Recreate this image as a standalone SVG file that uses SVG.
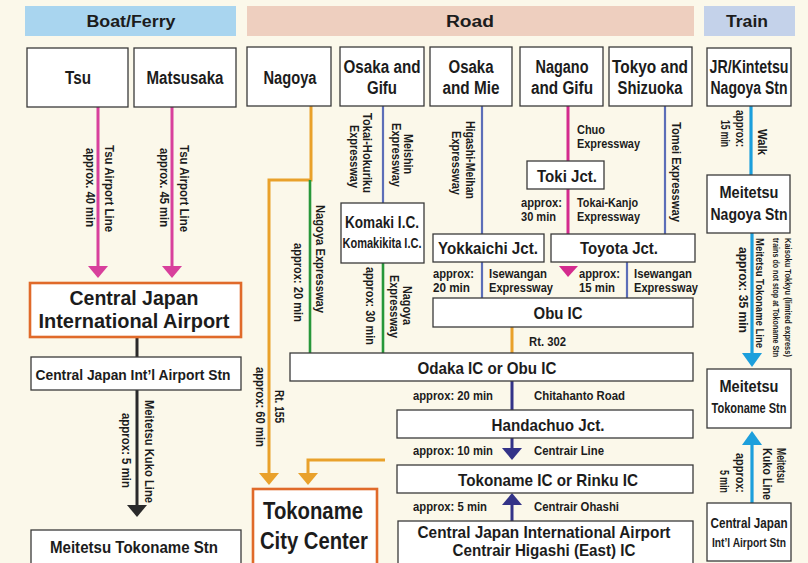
<svg xmlns="http://www.w3.org/2000/svg" width="808" height="563" viewBox="0 0 808 563">
<style>
.t{font-family:"Liberation Sans",Arial,Helvetica,sans-serif;font-weight:bold;fill:#1c1c1c}
.c{text-anchor:middle}
.e{text-anchor:end}
.s{font-size:12.5px}
.h{font-size:12px}
.xs{font-size:9.5px}
.b{font-size:17px}
.box{fill:#fff;stroke:#3a3a3a;stroke-width:1.3}
.obox{fill:#fff;stroke:#e06a2a;stroke-width:2.6}
.pink{stroke:#d8409c;stroke-width:3;fill:none}
.mag{stroke:#d42b8e;stroke-width:3;fill:none}
.blue{stroke:#5c6eb8;stroke-width:2.2;fill:none}
.green{stroke:#27973a;stroke-width:2.6;fill:none}
.orange{stroke:#e9a12b;stroke-width:3;fill:none}
.navy{stroke:#333388;stroke-width:3;fill:none}
.black{stroke:#2a2a2a;stroke-width:3;fill:none}
.cyan{stroke:#1c9fdc;stroke-width:3.2;fill:none}
</style>
<rect x="0" y="0" width="808" height="563" fill="#fbf8ea"/>

<g id="headers">
<rect x="25" y="6" width="211" height="30" fill="#a9d5ef"/>
<text class="t c" x="131" y="27" font-size="16" textLength="89" lengthAdjust="spacingAndGlyphs">Boat/Ferry</text>
<rect x="247" y="6" width="447" height="30" fill="#eecfbf"/>
<text class="t c" x="470" y="27" font-size="16" textLength="48" lengthAdjust="spacingAndGlyphs">Road</text>
<rect x="704" y="6" width="91" height="30" fill="#c4d2ea"/>
<text class="t c" x="747" y="27" font-size="16" textLength="42" lengthAdjust="spacingAndGlyphs">Train</text>
</g>

<g id="connectors">
<line class="pink" x1="98" y1="107" x2="98" y2="268"/>
<polygon points="88,266 108,266 98,278" fill="#d8409c"/>
<line class="pink" x1="172" y1="107" x2="172" y2="268"/>
<polygon points="162,266 182,266 172,278" fill="#d8409c"/>
<line class="black" x1="137" y1="337" x2="137" y2="357"/>
<line class="black" x1="137" y1="390" x2="137" y2="506"/>
<polygon points="127,505 147,505 137,517" fill="#2a2a2a"/>
<polyline class="orange" points="311,106 311,180 269,180 269,474"/>
<polygon points="259,473 279,473 269,485" fill="#e9a12b"/>
<polyline class="orange" points="385,460 308,460 308,474"/>
<polygon points="298,473 318,473 308,485" fill="#e9a12b"/>
<line class="green" x1="310" y1="180" x2="310" y2="353"/>
<line class="green" x1="383" y1="263" x2="383" y2="353"/>
<line class="blue" x1="383" y1="106" x2="383" y2="203"/>
<line class="blue" x1="482" y1="106" x2="482" y2="234"/>
<line class="blue" x1="665" y1="106" x2="665" y2="234"/>
<line class="blue" x1="482" y1="262" x2="482" y2="298"/>
<line class="blue" x1="627" y1="262" x2="627" y2="298"/>
<line class="mag" x1="568" y1="106" x2="568" y2="161"/>
<line class="mag" x1="568" y1="189" x2="568" y2="234"/>
<polygon points="559,266 578,266 568,277" fill="#d42b8e"/>
<line class="orange" x1="512" y1="327" x2="512" y2="353"/>
<line class="navy" x1="512" y1="381" x2="512" y2="410"/>
<line class="navy" x1="512" y1="438" x2="512" y2="449"/>
<polygon points="502,448 522,448 512,460" fill="#333388"/>
<line class="navy" x1="512" y1="521" x2="512" y2="504"/>
<polygon points="502,505 522,505 512,493" fill="#333388"/>
<line class="cyan" x1="751" y1="106" x2="751" y2="175"/>
<line class="cyan" x1="752" y1="233" x2="752" y2="354"/>
<polygon points="742,353 762,353 752,367" fill="#1c9fdc"/>
<line class="cyan" x1="752" y1="503" x2="752" y2="444"/>
<polygon points="742,445 762,445 752,431" fill="#1c9fdc"/>

<g id="connector-labels">
<text class="t s" transform="translate(105,145) rotate(90)" textLength="87" lengthAdjust="spacingAndGlyphs">Tsu Airport Line</text>
<text class="t s" transform="translate(86,148) rotate(90)" textLength="79" lengthAdjust="spacingAndGlyphs">approx. 40 min</text>
<text class="t s" transform="translate(180,145) rotate(90)" textLength="87" lengthAdjust="spacingAndGlyphs">Tsu Airport Line</text>
<text class="t s" transform="translate(160,148) rotate(90)" textLength="79" lengthAdjust="spacingAndGlyphs">approx. 45 min</text>
<text class="t s" transform="translate(145,400) rotate(90)" textLength="103" lengthAdjust="spacingAndGlyphs">Meitetsu Kuko Line</text>
<text class="t s" transform="translate(122,413) rotate(90)" textLength="75" lengthAdjust="spacingAndGlyphs">approx: 5 min</text>
<text class="t s" transform="translate(275,390) rotate(90)" textLength="33" lengthAdjust="spacingAndGlyphs">Rt. 155</text>
<text class="t s" transform="translate(256,367) rotate(90)" textLength="80" lengthAdjust="spacingAndGlyphs">approx: 60 min</text>
<text class="t s" transform="translate(316,205) rotate(90)" textLength="108" lengthAdjust="spacingAndGlyphs">Nagoya Expressway</text>
<text class="t s" transform="translate(294,243) rotate(90)" textLength="79" lengthAdjust="spacingAndGlyphs">approx: 20 min</text>
<text class="t s" transform="translate(366,267) rotate(90)" textLength="78" lengthAdjust="spacingAndGlyphs">approx: 30 min</text>
<text class="t s" transform="translate(403,286) rotate(90)" textLength="39" lengthAdjust="spacingAndGlyphs">Nagoya</text>
<text class="t s" transform="translate(390,275) rotate(90)" textLength="63" lengthAdjust="spacingAndGlyphs">Expressway</text>
<text class="t s" transform="translate(363,113) rotate(90)" textLength="80" lengthAdjust="spacingAndGlyphs">Tokai-Hokuriku</text>
<text class="t s" transform="translate(350,125) rotate(90)" textLength="63" lengthAdjust="spacingAndGlyphs">Expressway</text>
<text class="t s" transform="translate(404,134) rotate(90)" textLength="40" lengthAdjust="spacingAndGlyphs">Meishin</text>
<text class="t s" transform="translate(392,123) rotate(90)" textLength="64" lengthAdjust="spacingAndGlyphs">Expressway</text>
<text class="t s" transform="translate(466,121) rotate(90)" textLength="78" lengthAdjust="spacingAndGlyphs">Higashi-Meihan</text>
<text class="t s" transform="translate(452,131) rotate(90)" textLength="64" lengthAdjust="spacingAndGlyphs">Expressway</text>
<text class="t s" transform="translate(672,122) rotate(90)" textLength="100" lengthAdjust="spacingAndGlyphs">Tomei Expressway</text>
<text class="t h" x="577" y="134" textLength="28" lengthAdjust="spacingAndGlyphs">Chuo</text>
<text class="t h" x="577" y="148" textLength="63" lengthAdjust="spacingAndGlyphs">Expressway</text>
<text class="t h" x="521" y="207" textLength="41" lengthAdjust="spacingAndGlyphs">approx:</text>
<text class="t h" x="521" y="221" textLength="35" lengthAdjust="spacingAndGlyphs">30 min</text>
<text class="t h" x="577" y="207" textLength="61" lengthAdjust="spacingAndGlyphs">Tokai-Kanjo</text>
<text class="t h" x="577" y="221" textLength="63" lengthAdjust="spacingAndGlyphs">Expressway</text>
<text class="t h" x="433" y="278" textLength="41" lengthAdjust="spacingAndGlyphs">approx:</text>
<text class="t h" x="433" y="292" textLength="37" lengthAdjust="spacingAndGlyphs">20 min</text>
<text class="t h" x="489" y="278" textLength="58" lengthAdjust="spacingAndGlyphs">Isewangan</text>
<text class="t h" x="489" y="292" textLength="64" lengthAdjust="spacingAndGlyphs">Expressway</text>
<text class="t h" x="579" y="278" textLength="41" lengthAdjust="spacingAndGlyphs">approx:</text>
<text class="t h" x="579" y="292" textLength="36" lengthAdjust="spacingAndGlyphs">15 min</text>
<text class="t h" x="634" y="278" textLength="58" lengthAdjust="spacingAndGlyphs">Isewangan</text>
<text class="t h" x="634" y="292" textLength="64" lengthAdjust="spacingAndGlyphs">Expressway</text>
<text class="t s" x="529" y="346" textLength="37" lengthAdjust="spacingAndGlyphs">Rt. 302</text>
<text class="t s" x="413" y="400" textLength="80" lengthAdjust="spacingAndGlyphs">approx: 20 min</text>
<text class="t s" x="534" y="400" textLength="91" lengthAdjust="spacingAndGlyphs">Chitahanto Road</text>
<text class="t s" x="413" y="455" textLength="80" lengthAdjust="spacingAndGlyphs">approx: 10 min</text>
<text class="t s" x="534" y="455" textLength="70" lengthAdjust="spacingAndGlyphs">Centrair Line</text>
<text class="t s" x="413" y="511" textLength="74" lengthAdjust="spacingAndGlyphs">approx: 5 min</text>
<text class="t s" x="534" y="511" textLength="85" lengthAdjust="spacingAndGlyphs">Centrair Ohashi</text>
<text class="t s" transform="translate(736,110) rotate(90)" textLength="37" lengthAdjust="spacingAndGlyphs">approx:</text>
<text class="t s" transform="translate(721,120) rotate(90)" textLength="27" lengthAdjust="spacingAndGlyphs">15 min</text>
<text class="t s" transform="translate(758,129) rotate(90)" textLength="26" lengthAdjust="spacingAndGlyphs">Walk</text>
<text class="t s" transform="translate(739,247) rotate(90)" textLength="86" lengthAdjust="spacingAndGlyphs">approx: 35 min</text>
<text class="t" font-size="11" transform="translate(756,238) rotate(90)" textLength="110" lengthAdjust="spacingAndGlyphs">Meitetsu Tokoname Line</text>
<text class="t xs" transform="translate(773,238) rotate(90)" textLength="119" lengthAdjust="spacingAndGlyphs">trains do not stop at Tokoname Stn</text>
<text class="t xs" transform="translate(785,238) rotate(90)" textLength="119" lengthAdjust="spacingAndGlyphs">Kaisoku Tokkyu (limited express)</text>
<text class="t s" transform="translate(736,453) rotate(90)" textLength="40" lengthAdjust="spacingAndGlyphs">approx:</text>
<text class="t s" transform="translate(720,470) rotate(90)" textLength="23" lengthAdjust="spacingAndGlyphs">5 min</text>
<text class="t s" transform="translate(777,448) rotate(90)" textLength="35" lengthAdjust="spacingAndGlyphs">Meitetsu</text>
<text class="t s" transform="translate(763,448) rotate(90)" textLength="52" lengthAdjust="spacingAndGlyphs">Kuko Line</text>
</g>
</g>

<g id="tsu"><rect class="box" x="27" y="48" width="101" height="59"/>
<text class="t c" x="78" y="84" font-size="18" textLength="26" lengthAdjust="spacingAndGlyphs">Tsu</text></g>
<g id="matsusaka"><rect class="box" x="134" y="48" width="102" height="59"/>
<text class="t c" x="185" y="84" font-size="18" textLength="77" lengthAdjust="spacingAndGlyphs">Matsusaka</text></g>
<g id="nagoya"><rect class="box" x="247" y="47" width="84" height="59"/>
<text class="t c" x="290" y="84" font-size="18" textLength="53" lengthAdjust="spacingAndGlyphs">Nagoya</text></g>
<g id="osaka-gifu"><rect class="box" x="340" y="47" width="84" height="59"/>
<text class="t c" x="382" y="73" font-size="18" textLength="77" lengthAdjust="spacingAndGlyphs">Osaka and</text>
<text class="t c" x="382" y="94" font-size="18" textLength="30" lengthAdjust="spacingAndGlyphs">Gifu</text></g>
<g id="osaka-mie"><rect class="box" x="430" y="47" width="82" height="59"/>
<text class="t c" x="471" y="73" font-size="18" textLength="45" lengthAdjust="spacingAndGlyphs">Osaka</text>
<text class="t c" x="471" y="94" font-size="18" textLength="57" lengthAdjust="spacingAndGlyphs">and Mie</text></g>
<g id="nagano-gifu"><rect class="box" x="520" y="47" width="83" height="59"/>
<text class="t c" x="562" y="73" font-size="18" textLength="53" lengthAdjust="spacingAndGlyphs">Nagano</text>
<text class="t c" x="562" y="94" font-size="18" textLength="62" lengthAdjust="spacingAndGlyphs">and Gifu</text></g>
<g id="tokyo-shizuoka"><rect class="box" x="609" y="47" width="83" height="59"/>
<text class="t c" x="650" y="73" font-size="18" textLength="76" lengthAdjust="spacingAndGlyphs">Tokyo and</text>
<text class="t c" x="650" y="94" font-size="18" textLength="65" lengthAdjust="spacingAndGlyphs">Shizuoka</text></g>
<g id="jr-nagoya"><rect class="box" x="707" y="48" width="84" height="58"/>
<text class="t c" x="749" y="73" font-size="18" textLength="79" lengthAdjust="spacingAndGlyphs">JR/Kintetsu</text>
<text class="t c" x="749" y="94" font-size="18" textLength="77" lengthAdjust="spacingAndGlyphs">Nagoya Stn</text></g>

<g id="airport"><rect class="obox" x="30" y="283" width="211" height="54"/>
<text class="t c" x="134" y="305" font-size="21" textLength="129" lengthAdjust="spacingAndGlyphs">Central Japan</text>
<text class="t c" x="134" y="328" font-size="21" textLength="191" lengthAdjust="spacingAndGlyphs">International Airport</text></g>
<g id="airport-stn"><rect class="box" x="31" y="357" width="210" height="33"/>
<text class="t c" x="133" y="380" font-size="15" textLength="195" lengthAdjust="spacingAndGlyphs">Central Japan Int’l Airport Stn</text></g>
<g id="tokoname-stn-left"><rect class="box" x="31" y="530" width="210" height="40"/>
<text class="t c" x="134" y="553" font-size="16" textLength="168" lengthAdjust="spacingAndGlyphs">Meitetsu Tokoname Stn</text></g>
<g id="tokoname-city"><rect class="obox" x="253" y="489" width="124" height="80"/>
<text class="t c" x="313" y="519" font-size="23" textLength="100" lengthAdjust="spacingAndGlyphs">Tokoname</text>
<text class="t c" x="314" y="549" font-size="23" textLength="108" lengthAdjust="spacingAndGlyphs">City Center</text></g>
<g id="komaki"><rect class="box" x="341" y="203" width="83" height="60"/>
<text class="t c" x="382" y="228" font-size="17" textLength="74" lengthAdjust="spacingAndGlyphs">Komaki I.C.</text>
<text class="t c" x="382" y="248" font-size="14" textLength="79" lengthAdjust="spacingAndGlyphs">Komakikita I.C.</text></g>
<g id="toki"><rect class="box" x="527" y="161" width="77" height="28"/>
<text class="t c b" x="567" y="182" textLength="60" lengthAdjust="spacingAndGlyphs">Toki Jct.</text></g>
<g id="yokkaichi"><rect class="box" x="433" y="234" width="111" height="28"/>
<text class="t c b" x="488" y="254" textLength="100" lengthAdjust="spacingAndGlyphs">Yokkaichi Jct.</text></g>
<g id="toyota"><rect class="box" x="551" y="234" width="144" height="28"/>
<text class="t c b" x="619" y="254" textLength="78" lengthAdjust="spacingAndGlyphs">Toyota Jct.</text></g>
<g id="obu"><rect class="box" x="433" y="298" width="260" height="29"/>
<text class="t c b" x="558" y="319" textLength="49" lengthAdjust="spacingAndGlyphs">Obu IC</text></g>
<g id="odaka"><rect class="box" x="290" y="353" width="403" height="28"/>
<text class="t c b" x="487" y="374" textLength="139" lengthAdjust="spacingAndGlyphs">Odaka IC or Obu IC</text></g>
<g id="handachuo"><rect class="box" x="397" y="410" width="296" height="28"/>
<text class="t c b" x="548" y="431" textLength="113" lengthAdjust="spacingAndGlyphs">Handachuo Jct.</text></g>
<g id="tokoname-ic"><rect class="box" x="397" y="465" width="296" height="28"/>
<text class="t c b" x="548" y="486" textLength="180" lengthAdjust="spacingAndGlyphs">Tokoname IC or Rinku IC</text></g>
<g id="airport-ic"><rect class="box" x="398" y="521" width="295" height="45"/>
<text class="t c b" x="544" y="538" textLength="253" lengthAdjust="spacingAndGlyphs">Central Japan International Airport</text>
<text class="t c b" x="544" y="556" textLength="183" lengthAdjust="spacingAndGlyphs">Centrair Higashi (East) IC</text></g>
<g id="meitetsu-nagoya"><rect class="box" x="707" y="175" width="83" height="58"/>
<text class="t c" x="749" y="198" font-size="17" textLength="59" lengthAdjust="spacingAndGlyphs">Meitetsu</text>
<text class="t c" x="749" y="220" font-size="17" textLength="77" lengthAdjust="spacingAndGlyphs">Nagoya Stn</text></g>
<g id="meitetsu-tokoname"><rect class="box" x="707" y="369" width="84" height="59"/>
<text class="t c" x="749" y="392" font-size="17" textLength="59" lengthAdjust="spacingAndGlyphs">Meitetsu</text>
<text class="t c" x="749" y="413" font-size="14" textLength="75" lengthAdjust="spacingAndGlyphs">Tokoname Stn</text></g>
<g id="airport-stn-right"><rect class="box" x="707" y="503" width="84" height="58"/>
<text class="t c" x="749" y="528" font-size="14" textLength="77" lengthAdjust="spacingAndGlyphs">Central Japan</text>
<text class="t c" x="749" y="547" font-size="13" textLength="74" lengthAdjust="spacingAndGlyphs">Int’l Airport Stn</text></g>
</svg>
